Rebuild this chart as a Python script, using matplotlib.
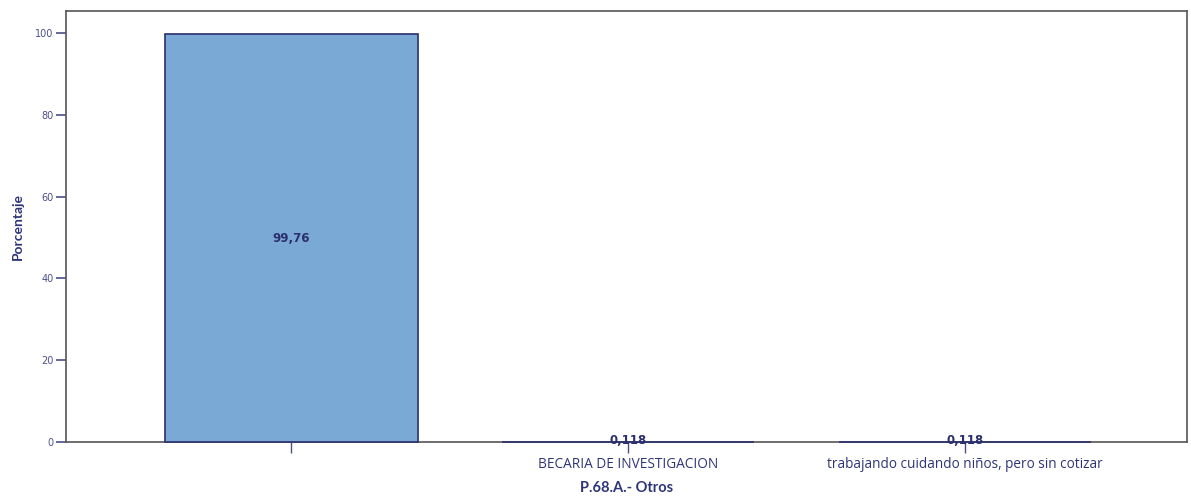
import matplotlib
matplotlib.use("Agg")
import matplotlib.pyplot as plt

categories = ["", "BECARIA DE INVESTIGACION", "trabajando cuidando niños, pero sin cotizar"]
values = [99.76, 0.118, 0.118]
value_labels = ["99,76", "0,118", "0,118"]
yticks = [0, 20, 40, 60, 80, 100]

fig = plt.figure(figsize=(11.91, 4.99), dpi=100)
ax = fig.add_axes([66/1191, 1 - 442/499, (1187-66)/1191, (442-11)/499])

x = list(range(len(categories)))
ax.bar(x, values, width=0.75, color="#7BA9D6", edgecolor="#2B2F6E", linewidth=1.2,
       zorder=3, clip_on=False)

ax.set_xlim(-0.669, 2.659)
ax.set_ylim(0, 105.4)
ax.set_yticks(yticks)
ax.set_yticklabels([str(t) for t in yticks], fontsize=7, color="#4A4F8A", family="DejaVu Sans")
ax.set_xticks(x)
ax.set_xticklabels(categories, fontsize=9.8, color="#2E3577", family="Open Sans")
ax.tick_params(axis="y", length=7, width=1.2, color="#4A4F8A", pad=2)
ax.tick_params(axis="x", length=8, width=1.0, color="#4A4F8A", pad=3)

for s in ax.spines.values():
    s.set_color("#555555")
    s.set_linewidth(1.2)

for i, (v, lab) in enumerate(zip(values, value_labels)):
    if v > 50:
        ax.text(i, v / 2, lab, ha="center", va="center", fontsize=8.5,
                fontweight="bold", color="#2B2F6E", family="DejaVu Sans", zorder=4)
    else:
        ax.text(i, v + 0.3, lab, ha="center", va="center", fontsize=8.5,
                fontweight="bold", color="#2B2F6E", family="DejaVu Sans", zorder=4)

ax.set_ylabel("Porcentaje", fontsize=10, fontweight="bold", color="#2E3577", family="Lato", labelpad=8)
ax.set_xlabel("P.68.A.- Otros", fontsize=10.5, fontweight="bold", color="#2E3577", family="Lato", labelpad=6)

fig.savefig("out.png", dpi=100)
